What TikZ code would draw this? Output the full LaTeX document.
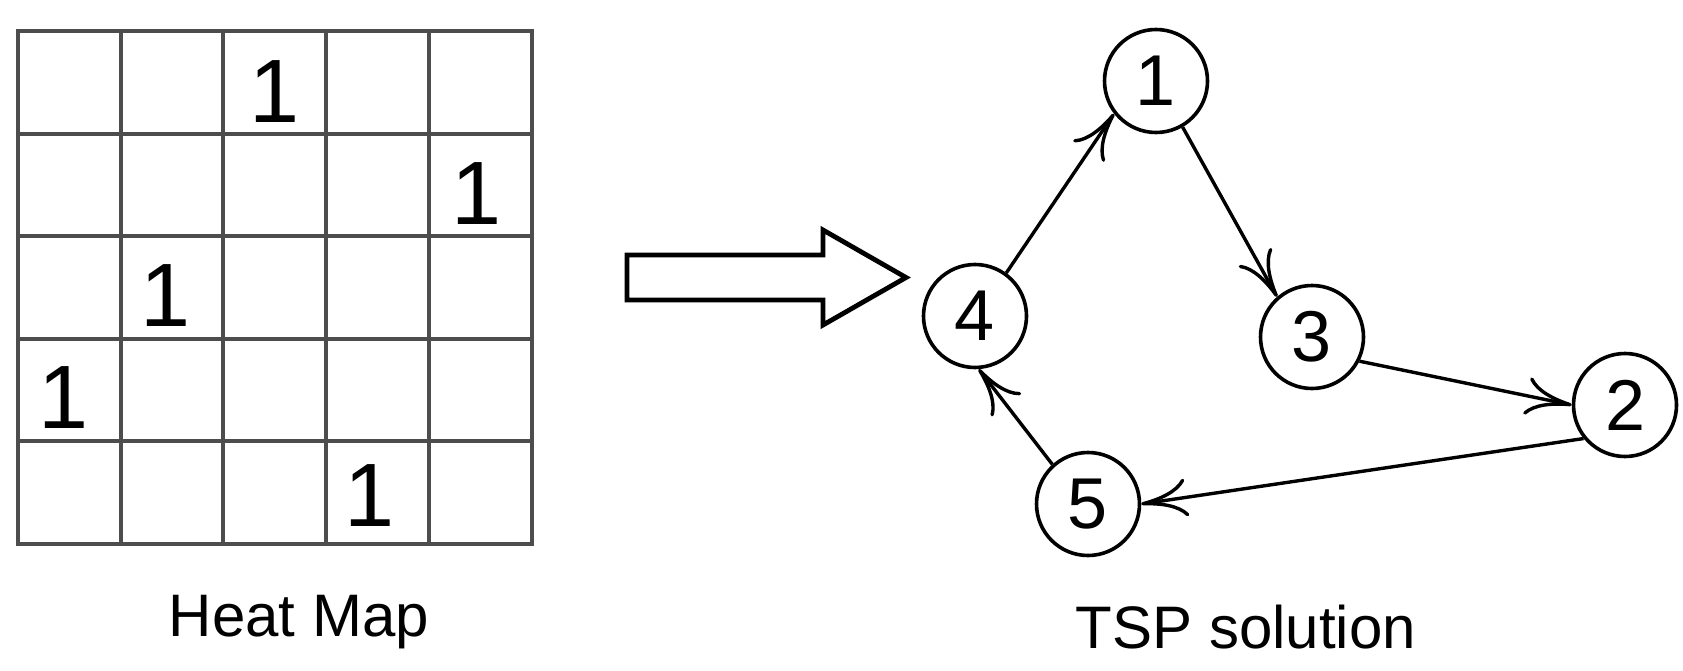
\documentclass[tikz,border=0pt]{standalone}
\usepackage{fontspec}
\setmainfont{Liberation Sans}
\usetikzlibrary{arrows.meta}
\definecolor{gridgray}{HTML}{4D4D4D}
\begin{document}
\begin{tikzpicture}[x=1pt,y=-1pt,
  gridline/.style={draw=gridgray, line width=4pt, line cap=rect},
  cellnum/.style={inner sep=0pt, font=\fontsize{90}{90}\selectfont},
  city/.style={circle, draw, line width=3.6pt, minimum size=103pt, inner sep=0pt, font=\fontsize{72}{72}\selectfont},
  tour/.style={line width=3.4pt, -{Computer Modern Rightarrow[length=46pt,width=38pt]}},
  caption/.style={anchor=base, inner sep=0pt, font=\fontsize{60}{60}\selectfont},
  blockarrow/.style={draw, line width=4.8pt, miter limit=10}
]
\useasboundingbox (0,0) rectangle (1683,671);

% heat map grid
\foreach \i in {0,...,5} {
  \draw[gridline] ({18+\i*102.7},31) -- ({18+\i*102.7},544);
  \draw[gridline] (18,{31+\i*102.6}) -- (531.5,{31+\i*102.6});
}
\node[cellnum] (c13) at (274.7,92) {1};
\node[cellnum] (c25) at (476.5,193.3) {1};
\node[cellnum] (c32) at (166,296) {1};
\node[cellnum] (c41) at (63.3,397.6) {1};
\node[cellnum] (c54) at (370,496) {1};

\node[caption] (hm) at (299,636.7) {Heat Map};

% block arrow
\draw[blockarrow] (627,255) -- (823,255) -- (823,230) -- (906,277.5) -- (823,325) -- (823,300) -- (627,300) -- cycle;

% TSP graph
\node[city] (n1) at (1156,81) {1};
\node[city] (n2) at (1625,405) {2};
\node[city] (n3) at (1312,337) {3};
\node[city] (n4) at (975,316) {4};
\node[city] (n5) at (1088,504) {5};

\draw[tour] (n4.54) -- (n1.218);
\draw[tour] (n1.-60) -- (n3.131);
\draw[tour] (n3.-27) -- (n2.west);
\draw[tour] (n2.219) -- (n5.east);
\draw[tour] (n5.132) -- (n4.274);

\node[caption] (tsp) at (1246,648.3) {TSP solution};
\end{tikzpicture}
\end{document}
